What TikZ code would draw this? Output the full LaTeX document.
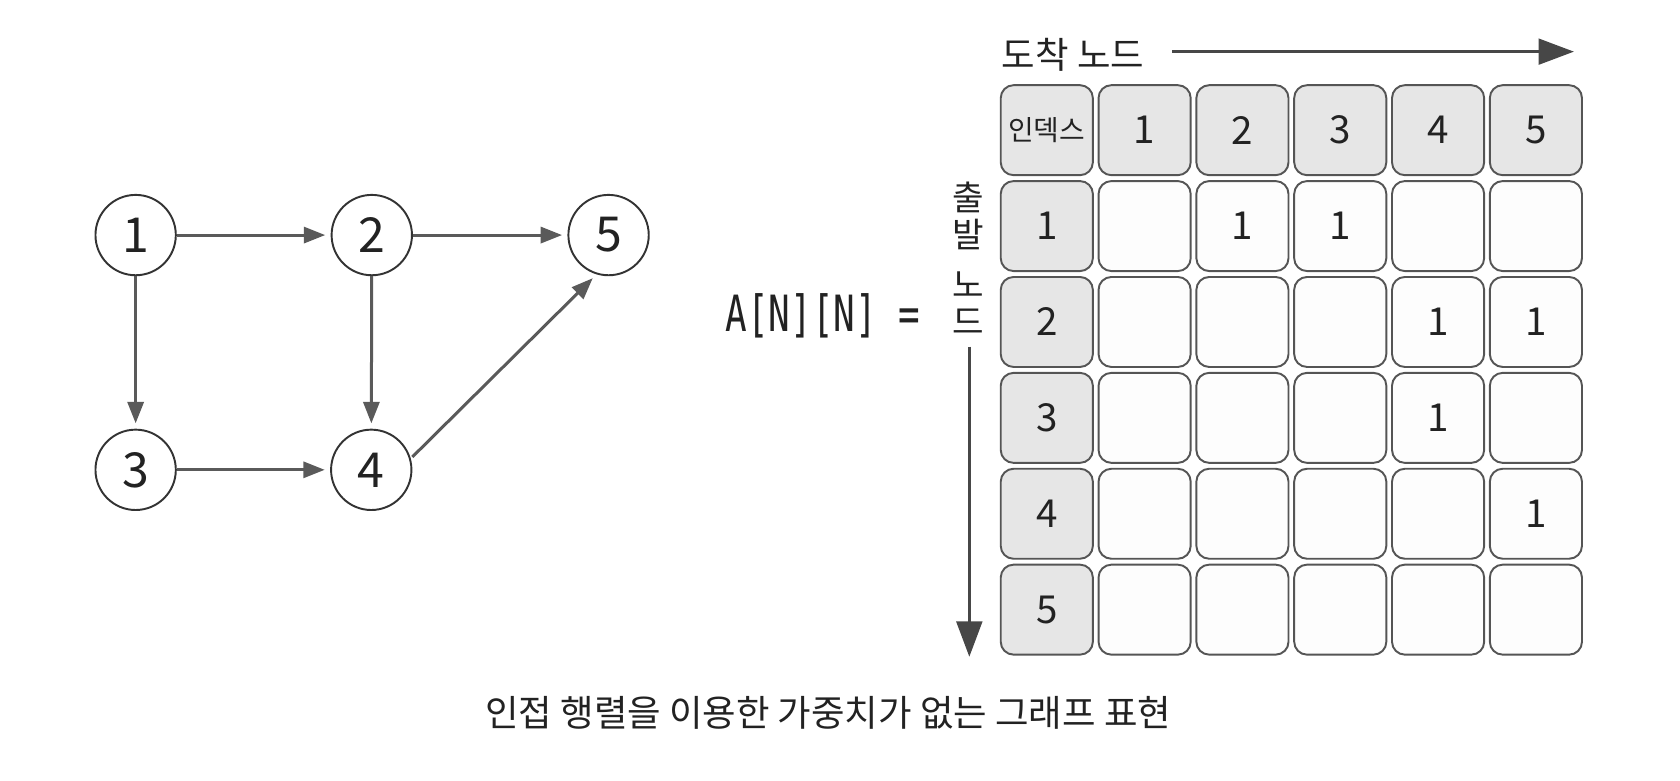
\documentclass[tikz,border=0pt]{standalone}
\usepackage{fontspec}
\setmainfont{Noto Sans CJK KR}
\newfontfamily\monof[FakeStretch=0.72]{DejaVu Sans Mono}
\usetikzlibrary{arrows.meta}
\definecolor{edgegray}{HTML}{5A5A5A}
\definecolor{circgray}{HTML}{333333}
\definecolor{cellline}{HTML}{555555}
\definecolor{cellfill}{HTML}{E6E6E6}
\definecolor{cellwhite}{HTML}{FDFDFD}
\definecolor{bigarrowc}{HTML}{474747}
\definecolor{txt}{HTML}{222222}
\begin{document}
\begin{tikzpicture}[x=1pt,y=-1pt,
  vert/.style={circle, draw=circgray, line width=1.8pt, fill=white, minimum size=75pt, inner sep=0pt, text=txt, font=\fontsize{45}{45}\selectfont},
  edge/.style={draw=edgegray, line width=2.8pt, -{Triangle[length=20pt,width=15pt]}, shorten >=5pt},
  hcell/.style={rectangle, rounded corners=12pt, draw=cellline, line width=1.8pt, fill=cellfill, minimum width=86pt, minimum height=84pt, inner sep=0pt, text=txt, font=\fontsize{36}{36}\selectfont},
  dcell/.style={hcell, fill=cellwhite},
  bigarrow/.style={draw=bigarrowc, line width=2.6pt, -{Triangle[length=33pt,width=24pt]}},
  lbl/.style={text=txt, inner sep=0pt, font=\fontsize{34}{34}\selectfont}
]
\useasboundingbox (0,0) rectangle (1568,728);

% graph
\node[vert] (n1) at (126.6,219.4) {1};
\node[vert] (n2) at (347,219.4) {2};
\node[vert] (n5) at (568,219.4) {5};
\node[vert] (n3) at (126.6,438.5) {3};
\node[vert] (n4) at (346.5,438.5) {4};
\draw[edge] (n1) -- (n2);
\draw[edge] (n2) -- (n5);
\draw[edge] (n1) -- (n3);
\draw[edge] (n2) -- (n4);
\draw[edge] (n3) -- (n4);
\draw[edge, shorten <=2pt] (n4.16) -- (n5.253);

% equation label
\node[text=txt, inner sep=0pt, font=\monof\fontsize{46.6}{46.6}\selectfont] (eq) at (768,295) {A[N][N] =};

% axis labels and arrows
\node[lbl] (dst) at (1001.5,51) {도착 노드};
\coordinate (hstart) at (1094,48.2);
\coordinate (hend) at (1469,48.2);
\draw[bigarrow] (hstart) -- (hend);

\node[lbl, align=center, font=\fontsize{32}{34}\selectfont] (src) at (903.7,241) {출\\발\\[13pt]노\\드};
\coordinate (vstart) at (904.7,323.6);
\coordinate (vend) at (904.7,613);
\draw[bigarrow] (vstart) -- (vend);

% matrix header
\node[hcell, font=\fontsize{26}{26}\selectfont] (h0) at (977,121.5) {인덱스};
\foreach \c in {1,...,5}
  \node[hcell] (h\c) at ({977+91.3*\c},121.5) {\c};
\foreach \r in {1,...,5}
  \node[hcell] (r\r) at (977,{121.5+89.5*\r}) {\r};

% matrix body
\foreach \r/\c/\v in {
  1/1/, 1/2/1, 1/3/1, 1/4/, 1/5/,
  2/1/, 2/2/, 2/3/, 2/4/1, 2/5/1,
  3/1/, 3/2/, 3/3/, 3/4/1, 3/5/,
  4/1/, 4/2/, 4/3/, 4/4/, 4/5/1,
  5/1/, 5/2/, 5/3/, 5/4/, 5/5/}
  \node[dcell] (c\r\c) at ({977+91.3*\c},{121.5+89.5*\r}) {\v};

% caption
\node[lbl] (cap) at (773,665) {인접 행렬을 이용한 가중치가 없는 그래프 표현};
\end{tikzpicture}
\end{document}
